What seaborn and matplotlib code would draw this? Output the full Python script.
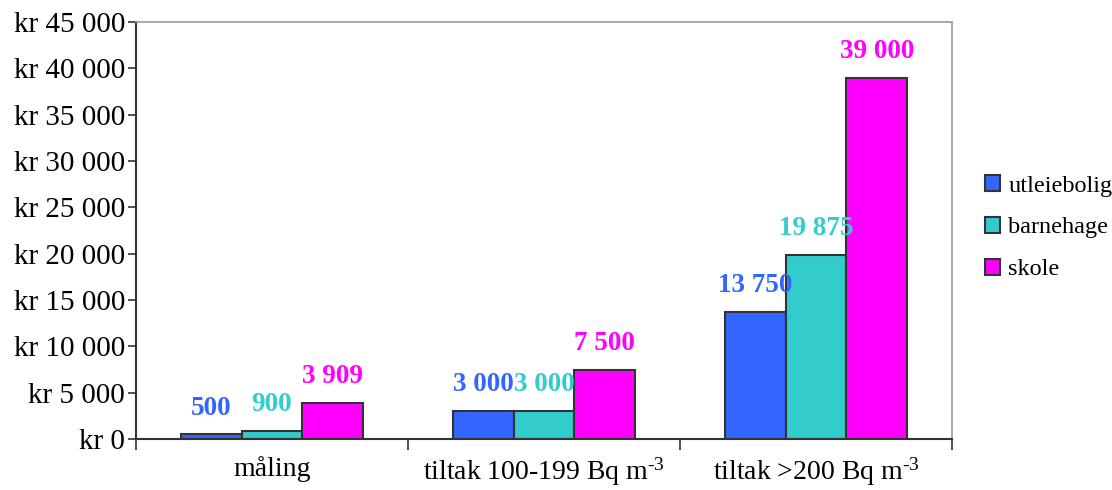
import numpy as np
import pandas as pd
import matplotlib
matplotlib.use("Agg")
import matplotlib.pyplot as plt
import seaborn as sns
from matplotlib.ticker import FixedLocator, FuncFormatter

# Data
kategorier = ["måling", r"tiltak 100-199 Bq m$^{\text{-3}}$", r"tiltak >200 Bq m$^{\text{-3}}$"]
serier = ["utleiebolig", "barnehage", "skole"]
utleiebolig = [500, 3000, 13750]
barnehage = [900, 3000, 19875]
skole = [3909, 7500, 39000]
farger = ["#3366FF", "#33CCCC", "#FF00FF"]
y_ticks = list(range(0, 45001, 5000))

rows = []
for s, vals in zip(serier, [utleiebolig, barnehage, skole]):
    for k, v in zip(kategorier, vals):
        rows.append({"kategori": k, "type": s, "kostnad": v})
df = pd.DataFrame(rows)

sns.set_style("white")
plt.rcParams["font.family"] = ["Liberation Serif", "DejaVu Serif"]
plt.rcParams["mathtext.fontset"] = "custom"
plt.rcParams["mathtext.rm"] = "Liberation Serif"
plt.rcParams["mathtext.it"] = "Liberation Serif:italic"
plt.rcParams["text.color"] = "black"
plt.rcParams["xtick.color"] = "black"
plt.rcParams["ytick.color"] = "black"

fig = plt.figure(figsize=(11.12, 4.9), dpi=100)
ax = fig.add_axes([0.1223, 0.104, 0.7338, 0.851])

sns.barplot(data=df, x="kategori", y="kostnad", hue="type", palette=farger,
            width=0.67, gap=0, errorbar=None, edgecolor="#333333", linewidth=1.5,
            saturation=1, ax=ax, legend=True)

def mellomrom(v):
    return f"{v:,.0f}".replace(",", " ")

for cont, farge in zip(ax.containers, farger):
    ax.bar_label(cont, labels=[mellomrom(v) for v in cont.datavalues],
                 color=farge, fontsize=19.5, fontweight="bold", padding=10)

ax.set_ylim(0, 45000)
ax.set_xlim(-0.5, 2.5)
ax.set_yticks(y_ticks)
ax.yaxis.set_major_formatter(FuncFormatter(lambda v, p: "kr " + mellomrom(v)))
ax.tick_params(axis="y", left=True, direction="out", length=6, width=1.2,
               labelsize=21, pad=2, color="#333333", labelcolor="black")
ax.tick_params(axis="x", which="major", bottom=False, length=0, labelsize=20,
               pad=12, labelcolor="black")
ax.xaxis.set_minor_locator(FixedLocator([-0.5, 0.5, 1.5, 2.5]))
ax.tick_params(axis="x", which="minor", bottom=True, direction="out", length=8,
               width=1.2, color="#333333")
ax.set_xlabel("")
ax.set_ylabel("")

for side in ["left", "bottom"]:
    ax.spines[side].set_color("#333333")
    ax.spines[side].set_linewidth(1.5)
for side in ["top", "right"]:
    ax.spines[side].set_color("#999999")
    ax.spines[side].set_linewidth(1.2)

handles, labels = ax.get_legend_handles_labels()
ax.get_legend().remove()
fig.legend(handles, labels, loc="center left", bbox_to_anchor=(0.886, 0.535),
           frameon=False, fontsize=17.5, handlelength=0.6, handleheight=0.6,
           handletextpad=0.35, labelspacing=0.85, borderpad=0, borderaxespad=0,
           labelcolor="black")

fig.savefig("out.png", dpi=100)
